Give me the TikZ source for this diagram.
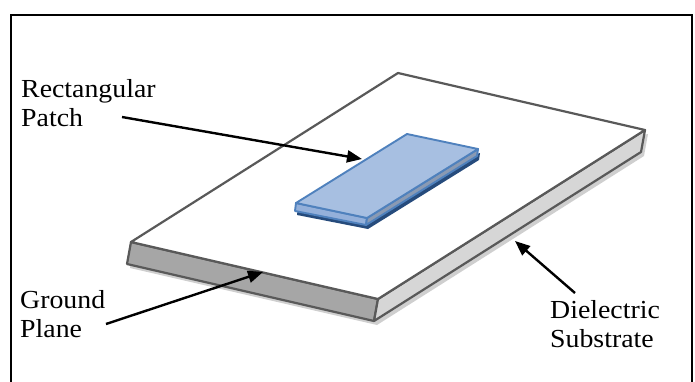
\documentclass[tikz,border=0pt]{standalone}
\usepackage{fontspec}
\setmainfont[FakeStretch=1.07]{Liberation Serif}
\usetikzlibrary{arrows.meta}

\definecolor{edgegray}{HTML}{595959}
\definecolor{frontgray}{HTML}{A6A6A6}
\definecolor{sidegray}{HTML}{D6D6D6}
\definecolor{shadowgray}{HTML}{CFCFCF}
\definecolor{patchtop}{HTML}{A7BFE1}
\definecolor{patchedge}{HTML}{4F81BD}
\definecolor{patchfront}{HTML}{94B0DA}
\definecolor{patchside}{HTML}{8A9AB3}
\definecolor{patchdark}{HTML}{264B7C}

\tikzstyle{caption} = [align=left, anchor=north west, inner sep=0pt, font=\fontsize{26}{29}\selectfont]
\tikzstyle{slab} = [draw=edgegray, line width=2.2pt, line join=round]
\tikzstyle{patch} = [draw=patchedge, line width=1.9pt, line join=round]
\tikzstyle{arrow} = [line width=2.4pt, -{Triangle[length=15pt,width=12pt]}]

\begin{document}
\begin{tikzpicture}[x=1pt, y=-1pt]
    \useasboundingbox (0,0) rectangle (695,381);

    % substrate corners (top face, then bottom edge)
    \coordinate (A) at (131,242);
    \coordinate (B) at (398,73);
    \coordinate (C) at (645,130);
    \coordinate (D) at (378,299);
    \coordinate (Ab) at (127,264);
    \coordinate (Db) at (374,321);
    \coordinate (Cb) at (641,152);

    % shadow under the substrate
    \fill [shadowgray] ([shift={(3,4)}]A) -- ([shift={(3,4)}]Ab) -- ([shift={(3,4)}]Db)
        -- ([shift={(3,4)}]Cb) -- ([shift={(3,4)}]C) -- cycle;
    \filldraw [slab, fill=frontgray] (A) -- (Ab) -- (Db) -- (D) -- cycle;
    \filldraw [slab, fill=sidegray] (D) -- (Db) -- (Cb) -- (C) -- cycle;
    \filldraw [slab, fill=white] (A) -- (B) -- (C) -- (D) -- cycle;

    % patch corners
    \coordinate (P1) at (296,203);
    \coordinate (P2) at (407,134);
    \coordinate (P3) at (478,149);
    \coordinate (P4) at (367,218);
    \coordinate (P1b) at (295,211);
    \coordinate (P4b) at (366,225);
    \coordinate (P3b) at (477,156);

    \fill [patchdark] ([shift={(2,4)}]P1) -- ([shift={(2,4)}]P1b) -- ([shift={(2,4)}]P4b)
        -- ([shift={(2,4)}]P3b) -- ([shift={(2,4)}]P3) -- cycle;
    \filldraw [patch, fill=patchfront] (P1) -- (P1b) -- (P4b) -- (P4) -- cycle;
    \filldraw [patch, fill=patchside] (P4) -- (P4b) -- (P3b) -- (P3) -- cycle;
    \filldraw [patch, fill=patchtop] (P1) -- (P2) -- (P3) -- (P4) -- cycle;

    % labels
    \node [caption] at (21,79) (lblPatch) {Rectangular\\Patch};
    \node [caption] at (20,290) (lblGround) {Ground\\Plane};
    \node [caption] at (550,300) (lblDiel) {Dielectric\\Substrate};

    \coordinate (patchTail) at (122,117);
    \coordinate (patchTip) at (362,159);
    \coordinate (groundTail) at (106,324);
    \coordinate (groundTip) at (263,272);
    \coordinate (dielTail) at (575,293);
    \coordinate (dielTip) at (515,241);

    \draw [arrow] (patchTail) -- (patchTip);
    \draw [arrow] (groundTail) -- (groundTip);
    \draw [arrow] (dielTail) -- (dielTip);

    % frame, open at the bottom
    \draw [line width=2.8pt] (11,385) |- (692,15) -- (692,385);
\end{tikzpicture}
\end{document}
